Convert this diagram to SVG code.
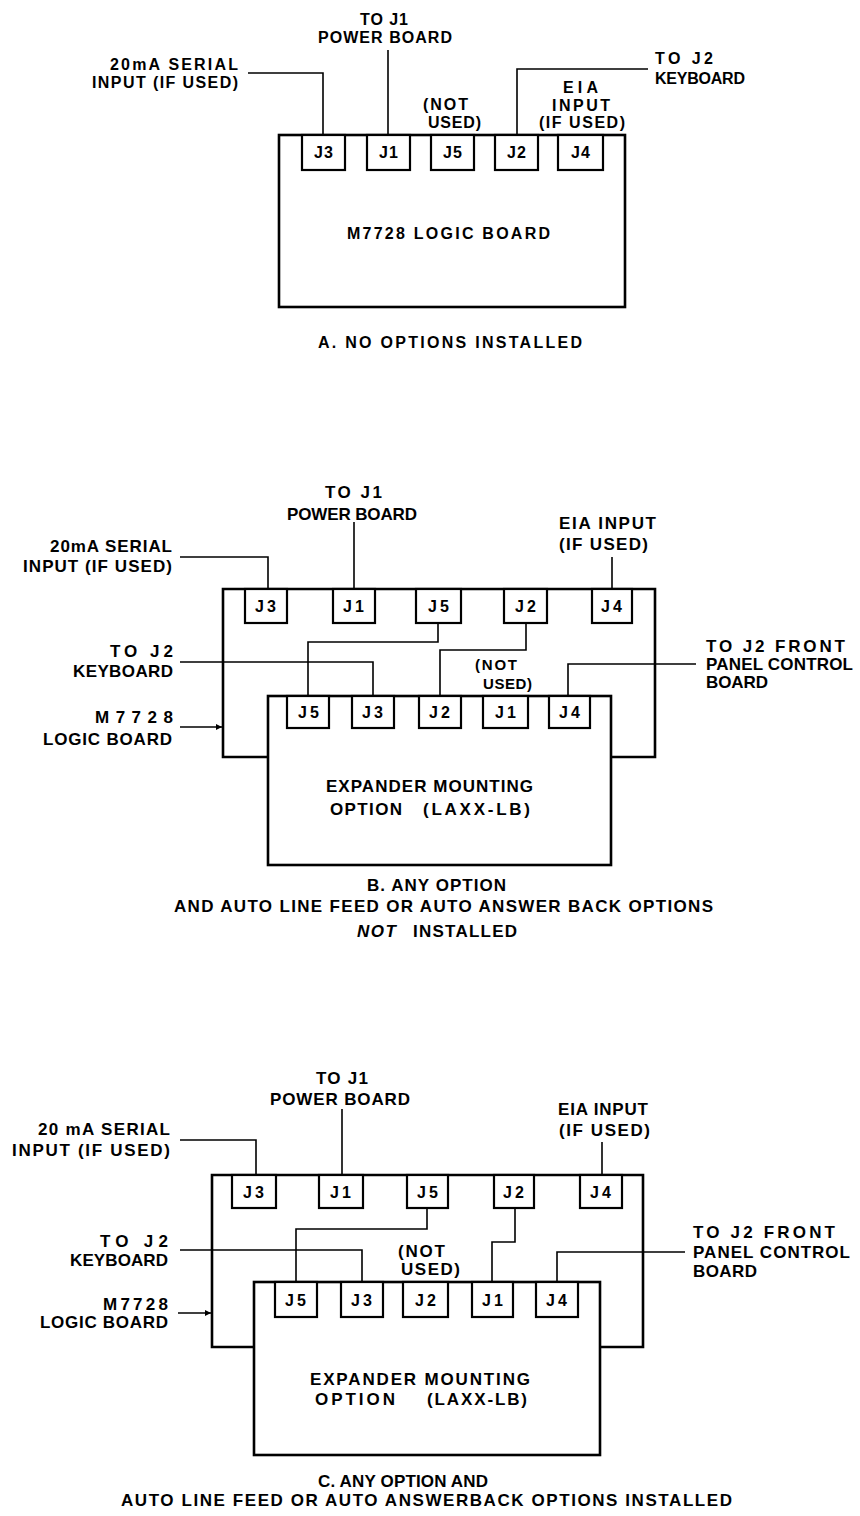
<svg xmlns="http://www.w3.org/2000/svg" width="860" height="1516" viewBox="0 0 860 1516">
<style>
.board{fill:none;stroke:#000;stroke-width:2.6;stroke-linejoin:miter}
.jack{fill:#fff;stroke:#000;stroke-width:2.2}
.wire{fill:none;stroke:#000;stroke-width:1.6}
text{font-family:"Liberation Sans",Arial,sans-serif;font-weight:bold;fill:#000}
.s15{font-size:16px}
.s16{font-size:17px}
.sm{font-size:15px}
.j{font-size:16px;text-anchor:middle;letter-spacing:1px}
.jw{font-size:16px;text-anchor:middle;letter-spacing:3px}
.it{font-style:italic}
</style>
<defs>
<marker id="arr" viewBox="0 0 10 10" refX="10" refY="5" markerWidth="8" markerHeight="6" markerUnits="userSpaceOnUse" orient="auto">
<path d="M0,0 L10,5 L0,10 z" fill="#000"/>
</marker>
</defs>
<rect x="0" y="0" width="860" height="1516" fill="#fff"/>

<!-- ================= SECTION A ================= -->
<g id="A-logic-board">
<rect class="board" x="279" y="135" width="346" height="172"/>
<text class="s15" x="347" y="239" textLength="203" lengthAdjust="spacing">M7728 LOGIC BOARD</text>
</g>
<g id="A-J3"><rect class="jack" x="302" y="135" width="43" height="35"/><text class="j" x="324" y="158">J3</text></g>
<g id="A-J1"><rect class="jack" x="367" y="135" width="43" height="35"/><text class="j" x="389" y="158">J1</text></g>
<g id="A-J5"><rect class="jack" x="431" y="135" width="43" height="35"/><text class="j" x="453" y="158">J5</text></g>
<g id="A-J2"><rect class="jack" x="495" y="135" width="43" height="35"/><text class="j" x="517" y="158">J2</text></g>
<g id="A-J4"><rect class="jack" x="558" y="135" width="45" height="35"/><text class="j" x="581" y="158">J4</text></g>

<g id="A-labels">
<text class="s15" x="360" y="25" textLength="48" lengthAdjust="spacing">TO J1</text>
<text class="s15" x="318" y="43" textLength="134" lengthAdjust="spacing">POWER BOARD</text>
<text class="s15" x="110" y="70" textLength="128" lengthAdjust="spacing">20mA SERIAL</text>
<text class="s15" x="92" y="88" textLength="146" lengthAdjust="spacing">INPUT (IF USED)</text>
<text class="s15" x="423" y="110" textLength="45" lengthAdjust="spacing">(NOT</text>
<text class="s15" x="428" y="128" textLength="53" lengthAdjust="spacing">USED)</text>
<text class="s15" x="563" y="93" textLength="35" lengthAdjust="spacing">EIA</text>
<text class="s15" x="552" y="111" textLength="58" lengthAdjust="spacing">INPUT</text>
<text class="s15" x="539" y="128" textLength="86" lengthAdjust="spacing">(IF USED)</text>
<text class="s15" x="655" y="64" textLength="58" lengthAdjust="spacing">TO J2</text>
<text class="s15" x="655" y="84" textLength="90" lengthAdjust="spacing">KEYBOARD</text>
<text class="s15" x="318" y="348" textLength="264" lengthAdjust="spacing">A. NO OPTIONS INSTALLED</text>
</g>

<!-- ================= SECTION B ================= -->
<g id="B-logic-board">
<path class="board" d="M268,757 H223 V589 H655 V757 H611"/>
</g>
<g id="B-expander">
<rect class="board" x="268" y="696" width="343" height="169"/>
<text class="s16" x="326" y="792" textLength="207" lengthAdjust="spacing">EXPANDER MOUNTING</text>
<text class="s16" x="330" y="815" textLength="72" lengthAdjust="spacing">OPTION</text>
<text class="s16" x="423" y="815" textLength="107" lengthAdjust="spacing">(LAXX-LB)</text>
</g>
<g id="B-up-J3"><rect class="jack" x="245" y="589" width="42" height="34"/><text class="jw" x="267" y="612">J3</text></g>
<g id="B-up-J1"><rect class="jack" x="333" y="589" width="42" height="34"/><text class="jw" x="355" y="612">J1</text></g>
<g id="B-up-J5"><rect class="jack" x="416" y="589" width="45" height="34"/><text class="jw" x="440" y="612">J5</text></g>
<g id="B-up-J2"><rect class="jack" x="504" y="589" width="43" height="34"/><text class="jw" x="527" y="612">J2</text></g>
<g id="B-up-J4"><rect class="jack" x="592" y="589" width="40" height="34"/><text class="jw" x="613" y="612">J4</text></g>
<g id="B-lo-J5"><rect class="jack" x="287" y="696" width="42" height="32"/><text class="jw" x="310" y="718">J5</text></g>
<g id="B-lo-J3"><rect class="jack" x="352" y="696" width="42" height="32"/><text class="jw" x="374" y="718">J3</text></g>
<g id="B-lo-J2"><rect class="jack" x="419" y="696" width="42" height="32"/><text class="jw" x="441" y="718">J2</text></g>
<g id="B-lo-J1"><rect class="jack" x="483" y="696" width="45" height="32"/><text class="jw" x="507" y="718">J1</text></g>
<g id="B-lo-J4"><rect class="jack" x="549" y="696" width="41" height="32"/><text class="jw" x="571" y="718">J4</text></g>

<g id="B-labels">
<text class="s16" x="325" y="498" textLength="57" lengthAdjust="spacing">TO J1</text>
<text class="s16" x="287" y="520" textLength="130" lengthAdjust="spacing">POWER BOARD</text>
<text class="s16" x="50" y="552" textLength="122" lengthAdjust="spacing">20mA SERIAL</text>
<text class="s16" x="23" y="572" textLength="149" lengthAdjust="spacing">INPUT (IF USED)</text>
<text class="s16" x="559" y="529" textLength="97" lengthAdjust="spacing">EIA INPUT</text>
<text class="s16" x="559" y="550" textLength="89" lengthAdjust="spacing">(IF USED)</text>
<text class="s16" x="110" y="657" textLength="63" lengthAdjust="spacing">TO J2</text>
<text class="s16" x="73" y="677" textLength="100" lengthAdjust="spacing">KEYBOARD</text>
<text class="s16" x="95" y="723" textLength="78" lengthAdjust="spacing">M7728</text>
<text class="s16" x="43" y="745" textLength="129" lengthAdjust="spacing">LOGIC BOARD</text>
<text class="sm" x="475" y="670" textLength="42" lengthAdjust="spacing">(NOT</text>
<text class="sm" x="483" y="689" textLength="49" lengthAdjust="spacing">USED)</text>
<text class="s16" x="706" y="652" textLength="139" lengthAdjust="spacing">TO J2 FRONT</text>
<text class="s16" x="706" y="670" textLength="147" lengthAdjust="spacing">PANEL CONTROL</text>
<text class="s16" x="706" y="688" textLength="62" lengthAdjust="spacing">BOARD</text>
<text class="s16" x="367" y="891" textLength="139" lengthAdjust="spacing">B. ANY OPTION</text>
<text class="s16" x="174" y="912" textLength="539" lengthAdjust="spacing">AND AUTO LINE FEED OR AUTO ANSWER BACK OPTIONS</text>
<text class="s16 it" x="357" y="937" textLength="39" lengthAdjust="spacing">NOT</text>
<text class="s16" x="413" y="937" textLength="104" lengthAdjust="spacing">INSTALLED</text>
</g>

<!-- ================= SECTION C ================= -->
<g id="C-logic-board">
<path class="board" d="M254,1347 H212 V1175 H643 V1347 H600"/>
</g>
<g id="C-expander">
<rect class="board" x="254" y="1282" width="346" height="173"/>
<text class="s16" x="310" y="1385" textLength="220" lengthAdjust="spacing">EXPANDER MOUNTING</text>
<text class="s16" x="315" y="1405" textLength="80" lengthAdjust="spacing">OPTION</text>
<text class="s16" x="427" y="1405" textLength="100" lengthAdjust="spacing">(LAXX-LB)</text>
</g>
<g id="C-up-J3"><rect class="jack" x="232" y="1175" width="44" height="33"/><text class="jw" x="255" y="1198">J3</text></g>
<g id="C-up-J1"><rect class="jack" x="319" y="1175" width="44" height="33"/><text class="jw" x="342" y="1198">J1</text></g>
<g id="C-up-J5"><rect class="jack" x="407" y="1175" width="41" height="33"/><text class="jw" x="429" y="1198">J5</text></g>
<g id="C-up-J2"><rect class="jack" x="494" y="1175" width="40" height="33"/><text class="jw" x="515" y="1198">J2</text></g>
<g id="C-up-J4"><rect class="jack" x="580" y="1175" width="42" height="33"/><text class="jw" x="602" y="1198">J4</text></g>
<g id="C-lo-J5"><rect class="jack" x="275" y="1282" width="42" height="35"/><text class="jw" x="297" y="1306">J5</text></g>
<g id="C-lo-J3"><rect class="jack" x="341" y="1282" width="42" height="35"/><text class="jw" x="363" y="1306">J3</text></g>
<g id="C-lo-J2"><rect class="jack" x="403" y="1282" width="45" height="35"/><text class="jw" x="427" y="1306">J2</text></g>
<g id="C-lo-J1"><rect class="jack" x="472" y="1282" width="41" height="35"/><text class="jw" x="494" y="1306">J1</text></g>
<g id="C-lo-J4"><rect class="jack" x="536" y="1282" width="42" height="35"/><text class="jw" x="558" y="1306">J4</text></g>

<g id="C-labels">
<text class="s16" x="316" y="1084" textLength="52" lengthAdjust="spacing">TO J1</text>
<text class="s16" x="270" y="1105" textLength="140" lengthAdjust="spacing">POWER BOARD</text>
<text class="s16" x="38" y="1135" textLength="132" lengthAdjust="spacing">20 mA SERIAL</text>
<text class="s16" x="12" y="1156" textLength="158" lengthAdjust="spacing">INPUT (IF USED)</text>
<text class="s16" x="558" y="1115" textLength="90" lengthAdjust="spacing">EIA INPUT</text>
<text class="s16" x="559" y="1136" textLength="91" lengthAdjust="spacing">(IF USED)</text>
<text class="s16" x="100" y="1247" textLength="68" lengthAdjust="spacing">TO J2</text>
<text class="s16" x="70" y="1266" textLength="98" lengthAdjust="spacing">KEYBOARD</text>
<text class="s16" x="103" y="1310" textLength="65" lengthAdjust="spacing">M7728</text>
<text class="s16" x="40" y="1328" textLength="128" lengthAdjust="spacing">LOGIC BOARD</text>
<text class="s16" x="398" y="1257" textLength="47" lengthAdjust="spacing">(NOT</text>
<text class="s16" x="401" y="1275" textLength="59" lengthAdjust="spacing">USED)</text>
<text class="s16" x="693" y="1238" textLength="142" lengthAdjust="spacing">TO J2 FRONT</text>
<text class="s16" x="693" y="1258" textLength="157" lengthAdjust="spacing">PANEL CONTROL</text>
<text class="s16" x="693" y="1277" textLength="64" lengthAdjust="spacing">BOARD</text>
<text class="s16" x="318" y="1487" textLength="170" lengthAdjust="spacing">C. ANY OPTION AND</text>
<text class="s16" x="121" y="1506" textLength="611" lengthAdjust="spacing">AUTO LINE FEED OR AUTO ANSWERBACK OPTIONS INSTALLED</text>
</g>

<!-- ================= CONNECTORS ================= -->
<g id="connectors">
<!-- A -->
<path class="wire" d="M248,73 H323 V135"/>
<path class="wire" d="M388,50 V135"/>
<path class="wire" d="M517,135 V69 H648"/>
<!-- B -->
<path class="wire" d="M180,557 H268 V589"/>
<path class="wire" d="M354,522 V589"/>
<path class="wire" d="M612,557 V589"/>
<path class="wire" d="M180,662 H373 V696"/>
<path class="wire" d="M438,623 V642 H308 V696"/>
<path class="wire" d="M526,623 V650 H440 V696"/>
<path class="wire" d="M696,664 H568 V696"/>
<path class="wire" d="M180,727 H222" marker-end="url(#arr)"/>
<!-- C -->
<path class="wire" d="M180,1140 H256 V1175"/>
<path class="wire" d="M342,1109 V1175"/>
<path class="wire" d="M602,1142 V1175"/>
<path class="wire" d="M180,1250 H362 V1282"/>
<path class="wire" d="M427,1208 V1229 H296 V1282"/>
<path class="wire" d="M515,1208 V1242 H492 V1282"/>
<path class="wire" d="M685,1252 H557 V1282"/>
<path class="wire" d="M178,1313 H211" marker-end="url(#arr)"/>
</g>
</svg>
